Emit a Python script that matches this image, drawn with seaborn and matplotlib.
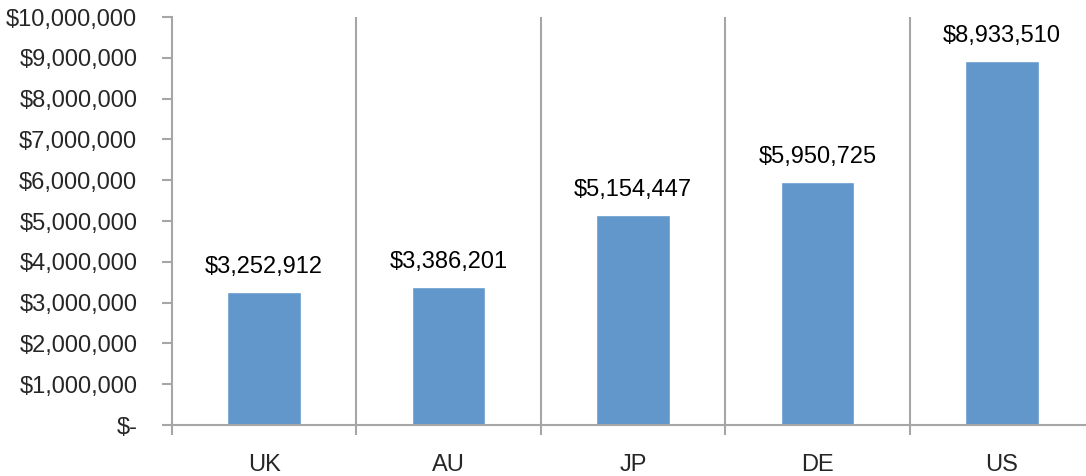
import matplotlib.pyplot as plt
import seaborn as sns
import pandas as pd

countries = ["UK", "AU", "JP", "DE", "US"]
revenue = [3252912, 3386201, 5154447, 5950725, 8933510]
y_ticks = [0, 1000000, 2000000, 3000000, 4000000, 5000000,
           6000000, 7000000, 8000000, 9000000, 10000000]

df = pd.DataFrame({"country": countries, "revenue": revenue})

sns.set_style("white")
plt.rcParams["font.family"] = ["Liberation Sans", "DejaVu Sans"]

grey = "#A6A6A6"
bar_color = "#6197CB"

fig = plt.figure(figsize=(10.86, 4.76), dpi=100)
ax = fig.add_axes([172 / 1086, 1 - 425 / 476, (1094 - 172) / 1086, (425 - 17) / 476])

sns.barplot(data=df, x="country", y="revenue", color=bar_color, width=0.4,
            saturation=1, ax=ax)

ax.set_xlim(-0.5, len(countries) - 0.5)
ax.set_ylim(0, 10000000)

# y axis
ax.set_yticks(y_ticks)
ax.set_yticklabels(["$-" if v == 0 else f"${v:,.0f}" for v in y_ticks])
ax.tick_params(axis="y", length=7, width=1.5, color=grey, pad=18, labelsize=17,
               direction="out", left=True)

# x axis: categories centred, tick marks at boundaries
ax.set_xticks(range(len(countries)))
ax.set_xticklabels(countries)
ax.set_xticks([i - 0.5 for i in range(len(countries) + 1)], minor=True)
ax.tick_params(axis="x", which="major", length=0, pad=21, labelsize=17)
ax.tick_params(axis="x", which="minor", length=7, width=1.5, color=grey,
               direction="out", bottom=True)

for x in range(1, len(countries)):
    ax.axvline(x - 0.5, color=grey, linewidth=1.5, zorder=0)

for side in ["top", "right"]:
    ax.spines[side].set_visible(False)
for side in ["left", "bottom"]:
    ax.spines[side].set_color(grey)
    ax.spines[side].set_linewidth(1.5)

ax.set_xlabel("")
ax.set_ylabel("")

for i, v in enumerate(revenue):
    ax.annotate(f"${v:,.0f}", (i, v), xytext=(0, 10), textcoords="offset points",
                ha="center", va="bottom", fontsize=17, color="black")

fig.savefig("out.png", dpi=100)
